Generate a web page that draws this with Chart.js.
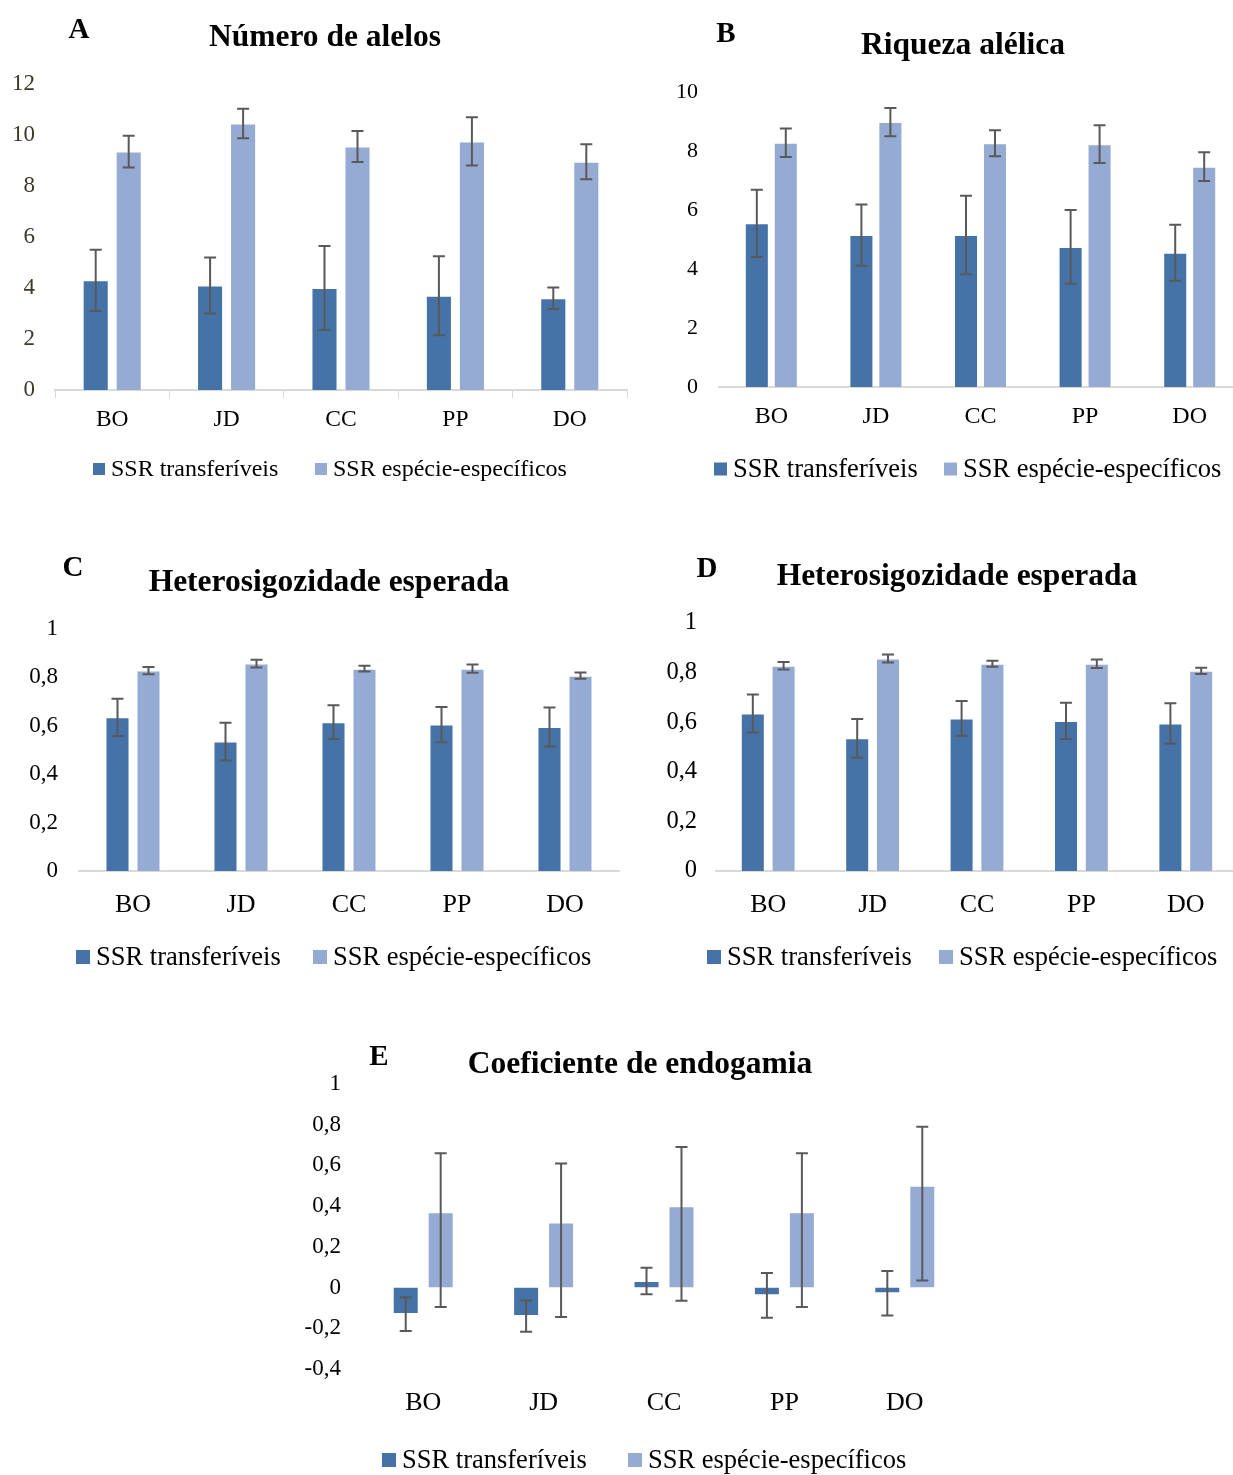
<!DOCTYPE html>
<html lang="pt">
<head>
<meta charset="utf-8">
<title>Diversidade genética - SSR</title>
<script src="https://cdn.jsdelivr.net/npm/chart.js@4.4.0/dist/chart.umd.min.js"></script>
<style>
  html, body { margin: 0; padding: 0; background: #fff; overflow: hidden; }
  #page { position: relative; width: 1233px; height: 1475px; overflow: hidden; }
  #page canvas { position: absolute; left: 0; top: 0; }
</style>
</head>
<body>
<div id="page">
  <canvas id="chartA" width="1300" height="1475"></canvas>
  <canvas id="chartB" width="1300" height="1475"></canvas>
  <canvas id="chartC" width="1300" height="1475"></canvas>
  <canvas id="chartD" width="1300" height="1475"></canvas>
  <canvas id="chartE" width="1300" height="1475"></canvas>
</div>
<script>
const categories = ['BO', 'JD', 'CC', 'PP', 'DO'];
const seriesNames = ['SSR transferíveis', 'SSR espécie-específicos'];

// A - número de alelos
const allelesTransf = [4.3, 4.1, 4.0, 3.7, 3.6];
const allelesTransfErr = [1.2, 1.1, 1.65, 1.55, 0.42];
const allelesSpecific = [9.35, 10.45, 9.55, 9.75, 8.95];
const allelesSpecificErr = [0.62, 0.58, 0.61, 0.95, 0.69];

// B - riqueza alélica
const richnessTransf = [5.55, 5.15, 5.15, 4.75, 4.55];
const richnessTransfErr = [1.14, 1.04, 1.33, 1.25, 0.95];
const richnessSpecific = [8.28, 8.98, 8.26, 8.23, 7.47];
const richnessSpecificErr = [0.48, 0.48, 0.44, 0.64, 0.49];

// C e D - heterosigozidade esperada
const heTransf = [0.635, 0.535, 0.615, 0.605, 0.595];
const heTransfErr = [0.077, 0.078, 0.07, 0.073, 0.081];
const heSpecific = [0.828, 0.857, 0.836, 0.836, 0.807];
const heSpecificErr = [0.015, 0.016, 0.012, 0.017, 0.013];

// E - coeficiente de endogamia
const fisTransf = [-0.13, -0.14, 0.032, -0.038, -0.028];
const fisTransfErr = [0.083, 0.077, 0.065, 0.11, 0.109];
const fisSpecific = [0.37, 0.32, 0.40, 0.37, 0.50];
const fisSpecificErrUp = [0.29, 0.29, 0.29, 0.29, 0.29];
const fisSpecificErrDown = [0.465, 0.465, 0.465, 0.465, 0.465];

const FONT = "'Liberation Serif', 'Times New Roman', serif";
const DARK = '#4573a7';
const LIGHT = '#95abd3';
const W = 1300, H = 1475;

function tickLabel(v) {
  return String(Math.round(v * 10) / 10).replace('.', ',');
}

// error bars drawn from the y scale of each chart
const errorBars = {
  id: 'errorBars',
  afterDatasetsDraw(chart, args, opts) {
    const ctx = chart.ctx;
    const y = chart.scales.y;
    ctx.save();
    ctx.strokeStyle = '#595959';
    ctx.lineWidth = 2;
    chart.data.datasets.forEach((ds, i) => {
      chart.getDatasetMeta(i).data.forEach((bar, j) => {
        const top = y.getPixelForValue(ds.data[j] + ds.errUp[j]);
        const bot = y.getPixelForValue(ds.data[j] - ds.errDown[j]);
        ctx.beginPath();
        ctx.moveTo(bar.x, top); ctx.lineTo(bar.x, bot);
        ctx.moveTo(bar.x - opts.cap, top); ctx.lineTo(bar.x + opts.cap, top);
        ctx.moveTo(bar.x - opts.cap, bot); ctx.lineTo(bar.x + opts.cap, bot);
        ctx.stroke();
      });
    });
    ctx.restore();
  }
};

// panel letter + legend row
const panelDecor = {
  id: 'panelDecor',
  afterDraw(chart, args, o) {
    const ctx = chart.ctx;
    ctx.save();
    ctx.fillStyle = '#000';
    ctx.textBaseline = 'middle';
    ctx.textAlign = 'center';
    ctx.font = 'bold ' + o.letterSize + 'px ' + FONT;
    ctx.fillText(o.letter, o.letterX, o.letterY + 3);
    ctx.textAlign = 'left';
    ctx.font = o.legendFont + 'px ' + FONT;
    chart.data.datasets.forEach((ds, i) => {
      const x = o.legendX[i];
      ctx.fillStyle = ds.backgroundColor;
      ctx.fillRect(x, o.legendY - o.box / 2, o.box, o.box);
      ctx.fillStyle = '#000';
      ctx.fillText(ds.label, x + o.box + 6, o.legendY + 1);
    });
    ctx.restore();
  }
};

function makePanel(p) {
  // left edge of the full-width boxes, right edge mirrored so the title centres on titleX
  const padL = p.yLeft;
  const rightEdge = 2 * p.titleX - padL;
  const titleSize = 31.5;
  const tl = p.xTicks ? 8 : 0;
  const barStyle = { borderWidth: 1, borderColor: 'rgba(255,255,255,0.6)', categoryPercentage: p.catPct, barPercentage: p.barPct };

  return new Chart(document.getElementById(p.id), {
    type: 'bar',
    data: {
      labels: categories,
      datasets: [
        Object.assign({ label: seriesNames[0], data: p.values[0], errUp: p.errUp[0], errDown: p.errDown[0], backgroundColor: DARK }, barStyle),
        Object.assign({ label: seriesNames[1], data: p.values[1], errUp: p.errUp[1], errDown: p.errDown[1], backgroundColor: LIGHT }, barStyle)
      ]
    },
    options: {
      responsive: false,
      animation: false,
      events: [],
      layout: { padding: { left: padL, right: W - rightEdge, top: 0, bottom: 0 } },
      plugins: {
        legend: { display: false },
        tooltip: { enabled: false },
        title: {
          display: true,
          text: p.title,
          color: '#000',
          font: { family: FONT, size: titleSize, weight: 'bold', lineHeight: 1.2 },
          padding: { top: p.titleY + 3 - titleSize * 0.6, bottom: p.plot.top - p.titleY - 3 - titleSize * 0.6 }
        },
        errorBars: { cap: 6 },
        panelDecor: {
          letter: p.letter, letterX: p.letterX, letterY: p.letterY, letterSize: 29,
          legendX: p.legendX, legendY: p.legendY, legendFont: p.legendFont, box: p.box
        }
      },
      scales: {
        x: {
          afterFit: s => { s.height = H - p.plot.bottom; },
          grid: { display: p.xTicks, drawOnChartArea: false, drawTicks: p.xTicks, tickLength: 8, color: '#d9d9d9', offset: true },
          border: { display: p.xBorder, color: '#d9d9d9', width: 2 },
          ticks: {
            color: '#000',
            font: { family: FONT, size: p.xFont, lineHeight: 1.2 },
            padding: p.xLabelY + 2 - p.plot.bottom - tl - p.xFont * 0.6,
            maxRotation: 0
          }
        },
        y: {
          min: p.yMin,
          max: p.yMax,
          afterFit: s => { s.width = p.plot.left - padL; },
          border: { display: false },
          grid: p.zeroLine
            ? { color: c => (c.tick && c.tick.value === 0 ? '#d9d9d9' : 'rgba(0,0,0,0)'), lineWidth: 2, drawTicks: false }
            : { display: false, drawTicks: false },
          ticks: {
            stepSize: p.yStep,
            color: p.yColor || '#000',
            font: { family: FONT, size: p.yFont },
            padding: p.plot.left - p.yLabelRight,
            callback: tickLabel
          }
        },
        // empty spacer on the right, only there to keep the title centred
        yPad: {
          position: 'right',
          afterFit: s => { s.width = rightEdge - p.plot.right; },
          grid: { display: false, drawTicks: false },
          border: { display: false },
          ticks: { display: false }
        }
      }
    },
    plugins: [errorBars, panelDecor]
  });
}

makePanel({
  id: 'chartA', title: 'Número de alelos', titleX: 325, titleY: 35, yLeft: 0,
  plot: { left: 55, right: 627, top: 84, bottom: 390 },
  yMin: 0, yMax: 12, yStep: 2, yLabelRight: 35, yFont: 23, yColor: '#3d3828',
  xLabelY: 418, xFont: 23.5, xTicks: true, xBorder: true,
  catPct: 0.577, barPct: 0.79,
  values: [allelesTransf, allelesSpecific],
  errUp: [allelesTransfErr, allelesSpecificErr], errDown: [allelesTransfErr, allelesSpecificErr],
  letter: 'A', letterX: 79, letterY: 28, legendX: [93, 315], legendY: 469, legendFont: 24, box: 12
});

makePanel({
  id: 'chartB', title: 'Riqueza alélica', titleX: 963, titleY: 43, yLeft: 650,
  plot: { left: 719, right: 1242, top: 92, bottom: 387 },
  yMin: 0, yMax: 10, yStep: 2, yLabelRight: 698, yFont: 22,
  xLabelY: 415, xFont: 24, xTicks: false, xBorder: true,
  catPct: 0.554, barPct: 0.83,
  values: [richnessTransf, richnessSpecific],
  errUp: [richnessTransfErr, richnessSpecificErr], errDown: [richnessTransfErr, richnessSpecificErr],
  letter: 'B', letterX: 726, letterY: 32, legendX: [714, 944], legendY: 469, legendFont: 26.5, box: 13
});

makePanel({
  id: 'chartC', title: 'Heterosigozidade esperada', titleX: 329, titleY: 580, yLeft: 0,
  plot: { left: 79, right: 619, top: 629, bottom: 871 },
  yMin: 0, yMax: 1, yStep: 0.2, yLabelRight: 58, yFont: 23,
  xLabelY: 903, xFont: 26, xTicks: false, xBorder: true,
  catPct: 0.574, barPct: 0.775,
  values: [heTransf, heSpecific],
  errUp: [heTransfErr, heSpecificErr], errDown: [heTransfErr, heSpecificErr],
  letter: 'C', letterX: 73, letterY: 566, legendX: [76, 313], legendY: 957, legendFont: 26.5, box: 14
});

makePanel({
  id: 'chartD', title: 'Heterosigozidade esperada', titleX: 957, titleY: 574, yLeft: 650,
  plot: { left: 716, right: 1238, top: 623, bottom: 871 },
  yMin: 0, yMax: 1, yStep: 0.2, yLabelRight: 697, yFont: 24.5,
  xLabelY: 903, xFont: 26, xTicks: false, xBorder: true,
  catPct: 0.59, barPct: 0.78,
  values: [heTransf, heSpecific],
  errUp: [heTransfErr, heSpecificErr], errDown: [heTransfErr, heSpecificErr],
  letter: 'D', letterX: 707, letterY: 567, legendX: [707, 939], legendY: 957, legendFont: 26.5, box: 14
});

makePanel({
  id: 'chartE', title: 'Coeficiente de endogamia', titleX: 640, titleY: 1062, yLeft: 290,
  plot: { left: 363, right: 965, top: 1084, bottom: 1369 },
  yMin: -0.4, yMax: 1, yStep: 0.2, yLabelRight: 341, yFont: 23, zeroLine: true,
  xLabelY: 1401, xFont: 26, xTicks: false, xBorder: false,
  catPct: 0.581, barPct: 0.743,
  values: [fisTransf, fisSpecific],
  errUp: [fisTransfErr, fisSpecificErrUp], errDown: [fisTransfErr, fisSpecificErrDown],
  letter: 'E', letterX: 379, letterY: 1055, legendX: [382, 628], legendY: 1460, legendFont: 26.5, box: 14
});
</script>
</body>
</html>
